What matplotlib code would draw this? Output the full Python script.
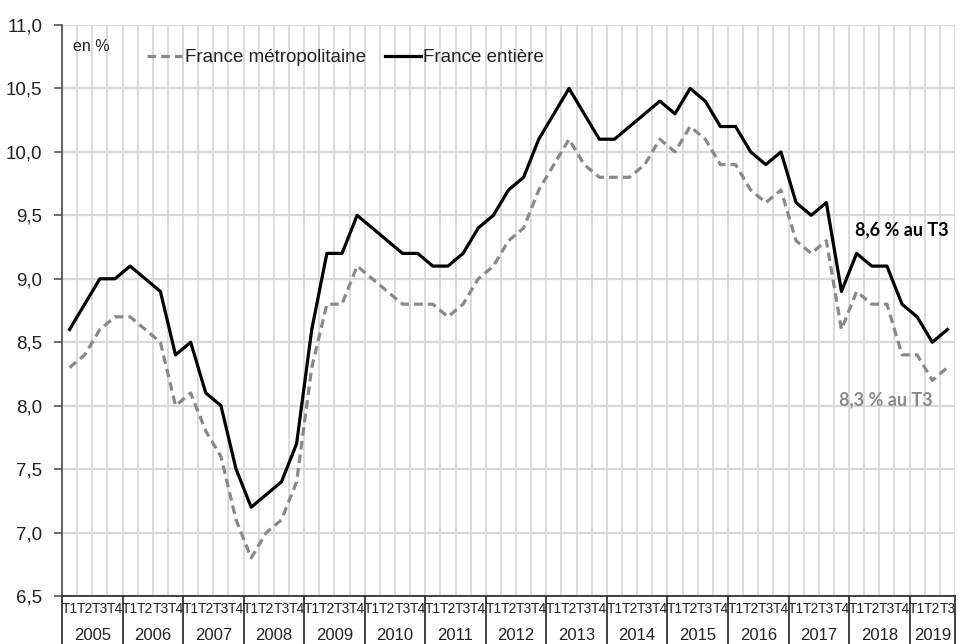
import matplotlib
matplotlib.use("Agg")
import matplotlib.pyplot as plt
import matplotlib.transforms as mtransforms
from matplotlib.lines import Line2D
from matplotlib.ticker import FixedLocator, FuncFormatter

plt.rcParams['font.family'] = ['Liberation Sans', 'DejaVu Sans']

years = [str(y) for y in range(2005, 2020)]
quarter_labels = (["T1", "T2", "T3", "T4"] * 15)[:59]

france_entiere = [8.6, 8.8, 9.0, 9.0, 9.1, 9.0, 8.9, 8.4, 8.5, 8.1, 8.0, 7.5,
                  7.2, 7.3, 7.4, 7.7, 8.6, 9.2, 9.2, 9.5, 9.4, 9.3, 9.2, 9.2,
                  9.1, 9.1, 9.2, 9.4, 9.5, 9.7, 9.8, 10.1, 10.3, 10.5, 10.3, 10.1,
                  10.1, 10.2, 10.3, 10.4, 10.3, 10.5, 10.4, 10.2, 10.2, 10.0, 9.9, 10.0,
                  9.6, 9.5, 9.6, 8.9, 9.2, 9.1, 9.1, 8.8, 8.7, 8.5, 8.6]
france_metro = [8.3, 8.4, 8.6, 8.7, 8.7, 8.6, 8.5, 8.0, 8.1, 7.8, 7.6, 7.1,
                6.8, 7.0, 7.1, 7.4, 8.3, 8.8, 8.8, 9.1, 9.0, 8.9, 8.8, 8.8,
                8.8, 8.7, 8.8, 9.0, 9.1, 9.3, 9.4, 9.7, 9.9, 10.1, 9.9, 9.8,
                9.8, 9.8, 9.9, 10.1, 10.0, 10.2, 10.1, 9.9, 9.9, 9.7, 9.6, 9.7,
                9.3, 9.2, 9.3, 8.6, 8.9, 8.8, 8.8, 8.4, 8.4, 8.2, 8.3]
y_ticks = [6.5, 7.0, 7.5, 8.0, 8.5, 9.0, 9.5, 10.0, 10.5, 11.0]

GRAY = '#898989'
GRID = '#d9d9d9'

fig = plt.figure(figsize=(9.59, 6.44), dpi=100)
ax = fig.add_axes([62/959, 1-596/644, (955-62)/959, (596-25)/644])

n = len(france_entiere)
x = list(range(n))

ax.plot(x, france_metro, color=GRAY, lw=2.3, dashes=(2.7, 1.6),
        label='France métropolitaine', zorder=3)
ax.plot(x, france_entiere, color='black', lw=2.3,
        label='France entière', zorder=4)

ax.set_xlim(-0.5, n - 0.5)
ax.set_ylim(6.5, 11.0)

ax.yaxis.set_major_locator(FixedLocator(y_ticks))
ax.yaxis.set_major_formatter(FuncFormatter(lambda v, p: f"{v:.1f}".replace('.', ',')))
ax.tick_params(axis='y', labelsize=13.5, length=6, width=1.2, color='#555555',
               pad=8, labelcolor='#222222')
ax.grid(axis='y', which='major', color=GRID, lw=1.6, zorder=0)

ax.xaxis.set_major_locator(FixedLocator([]))
ax.xaxis.set_minor_locator(FixedLocator([i - 0.5 for i in range(n + 1)]))
ax.tick_params(axis='x', which='both', length=0)
ax.grid(axis='x', which='minor', color=GRID, lw=1.3, zorder=0)

for s in ['top', 'right']:
    ax.spines[s].set_visible(False)
ax.spines['left'].set_color('#555555')
ax.spines['left'].set_linewidth(1.3)
ax.spines['bottom'].set_color('#333333')
ax.spines['bottom'].set_linewidth(1.3)

trans = mtransforms.blended_transform_factory(ax.transData, ax.transAxes)
# quarter labels
for i, q in enumerate(quarter_labels):
    ax.text(i, -0.023, q, transform=trans, ha='center', va='center',
            fontsize=10, color='#222222')
# year labels and separators
for k, yr in enumerate(years):
    start = 4 * k - 0.5
    end = min(4 * k + 3.5, n - 0.5)
    ax.text((start + end) / 2, -0.069, yr, transform=trans, ha='center',
            va='center', fontsize=12, color='#222222')
bounds = [4 * k - 0.5 for k in range(15)] + [n - 0.5]
for b in bounds:
    ax.add_line(Line2D([b, b], [0, -0.09], transform=trans, color='#333333',
                       lw=1.3, clip_on=False))

ax.text(0.012, 0.962, 'en %', transform=ax.transAxes, ha='left', va='center',
        fontsize=11.5, color='#222222')

leg = ax.legend(loc='center left', bbox_to_anchor=(0.095, 0.943), ncol=2,
                frameon=False, fontsize=13.5, handlelength=1.9,
                handletextpad=0.15, columnspacing=1.0, borderaxespad=0,
                borderpad=0)
for t in leg.get_texts():
    t.set_color('#222222')

ax.text(55.0, 9.39, '8,6 % au T3', ha='center', va='center', fontsize=13,
        fontweight='bold', color='black', family=['Lato', 'DejaVu Sans'])
ax.text(53.9, 8.05, '8,3 % au T3', ha='center', va='center', fontsize=13,
        fontweight='bold', color=GRAY, family=['Lato', 'DejaVu Sans'])

fig.savefig('out.png', dpi=100)
